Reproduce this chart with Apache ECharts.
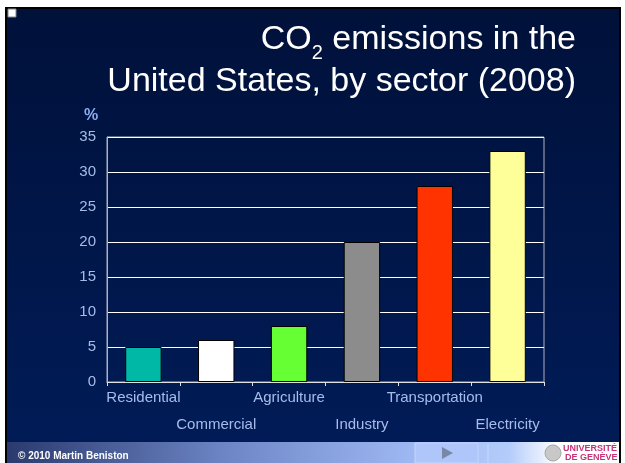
<!DOCTYPE html>
<html>
<head>
<meta charset="utf-8">
<script src="https://cdn.jsdelivr.net/npm/echarts@6/dist/echarts.min.js"></script>
<style>
html,body{margin:0;padding:0;background:#fff;}
#main{width:625px;height:463px;}
</style>
</head>
<body>
<div id="main"></div>
<script>
var categories = ['Residential', 'Commercial', 'Agriculture', 'Industry', 'Transportation', 'Electricity'];
var values = [5, 6, 8, 20, 28, 33];
var barColors = ['#00b8a6', '#ffffff', '#66ff33', '#8c8c8c', '#ff3300', '#ffff99'];
var yTicks = [0, 5, 10, 15, 20, 25, 30, 35];

var chart = echarts.init(document.getElementById('main'), null, {renderer: 'canvas'});
var font = '"Liberation Sans", Arial, sans-serif';

var option = {
  backgroundColor: '#ffffff',
  animation: false,
  grid: {
    left: 107, right: 81, top: 137, bottom: 81,
    show: true, borderColor: '#b0b0c0', borderWidth: 1, backgroundColor: 'transparent'
  },
  xAxis: {
    type: 'category',
    data: categories,
    axisLine: {show: true, lineStyle: {color: '#e0e0e0', width: 1}},
    axisTick: {show: true, length: 4, lineStyle: {color: '#e0e0e0'}},
    axisLabel: {
      interval: 0, margin: 2, color: '#a8bcec', fontSize: 15, fontFamily: font,
      lineHeight: 27,
      formatter: function (v, i) { return i % 2 ? '\n' + v : v; }
    }
  },
  yAxis: {
    type: 'value',
    min: yTicks[0], max: yTicks[yTicks.length - 1], interval: 5,
    axisLine: {show: true, lineStyle: {color: '#b0b0c0'}},
    axisTick: {show: false},
    axisLabel: {color: '#a8bcec', fontSize: 15, fontFamily: font, margin: 11},
    splitLine: {show: true, lineStyle: {color: '#ffffff', width: 1}}
  },
  series: [{
    type: 'bar',
    barWidth: '50%',
    data: values.map(function (v, i) {
      return {value: v, itemStyle: {color: barColors[i], borderColor: '#000', borderWidth: 1}};
    })
  }],
  graphic: [
    {type: 'rect', z: -10, shape: {x: 6, y: 8, width: 614, height: 455},
      style: {fill: new echarts.graphic.LinearGradient(0, 0, 0, 1, [
        {offset: 0, color: '#00113a'}, {offset: 1, color: '#001c58'}]), stroke: '#000', lineWidth: 2}},
    {type: 'rect', z: -9, shape: {x: 7, y: 442, width: 612, height: 21},
      style: {fill: new echarts.graphic.LinearGradient(0, 0, 1, 0, [
        {offset: 0, color: '#2a3a6e'}, {offset: 0.35, color: '#6c84c4'},
        {offset: 0.65, color: '#9cb6f2'}, {offset: 0.82, color: '#b4ccfa'},
        {offset: 0.9, color: '#ffffff'}, {offset: 1, color: '#ffffff'}])}},
    {type: 'rect', z: -8, shape: {x: 415, y: 443, width: 63, height: 20},
      style: {fill: '#aec6fa', stroke: '#c4d6ff', lineWidth: 1}},
    {type: 'polygon', z: -7, shape: {points: [[442, 447], [442, 459], [453, 453]]},
      style: {fill: '#7a88a8'}},
    {type: 'line', z: -7, shape: {x1: 488, y1: 444, x2: 488, y2: 463}, style: {stroke: '#c8d8ff', lineWidth: 1}},
    {type: 'circle', z: -7, shape: {cx: 553, cy: 453, r: 8}, style: {fill: '#c8c8c8', stroke: '#a8a8a8'}},
    {type: 'text', z: -6, style: {x: 563, y: 449, text: 'UNIVERSITÉ', fill: '#c8327a',
      font: 'bold 9px ' + font, verticalAlign: 'middle'}},
    {type: 'text', z: -6, style: {x: 565, y: 458, text: 'DE GENÈVE', fill: '#c8327a',
      font: 'bold 9px ' + font, verticalAlign: 'middle'}},
    {type: 'text', z: 5, style: {x: 18, y: 456, text: '© 2010 Martin Beniston', fill: '#ffffff',
      font: 'bold 10px ' + font, verticalAlign: 'middle'}},
    {type: 'rect', z: 5, shape: {x: 8, y: 9, width: 8, height: 8}, style: {fill: '#ffffff', stroke: '#888', lineWidth: 1}},
    {type: 'text', z: 5, style: {x: 84, y: 116, text: '%', fill: '#8aaef0',
      font: 'bold 16px ' + font, verticalAlign: 'middle'}},
    {type: 'text', z: 5, style: {x: 576, y: 57, align: 'right', verticalAlign: 'bottom',
      text: '{a|CO}{s|2}{a| emissions in the}',
      rich: {
        a: {fontSize: 34, fontFamily: font, fill: '#ffffff', lineHeight: 36, verticalAlign: 'bottom'},
        s: {fontSize: 20, fontFamily: font, fill: '#ffffff', lineHeight: 20, verticalAlign: 'bottom', padding: [0, 0, -6, 0]}
      }}},
    {type: 'text', z: 5, style: {x: 576, y: 82, align: 'right', verticalAlign: 'middle',
      text: 'United States, by sector (2008)', fill: '#ffffff', font: '34px ' + font}}
  ]
};
chart.setOption(option);
</script>
</body>
</html>
